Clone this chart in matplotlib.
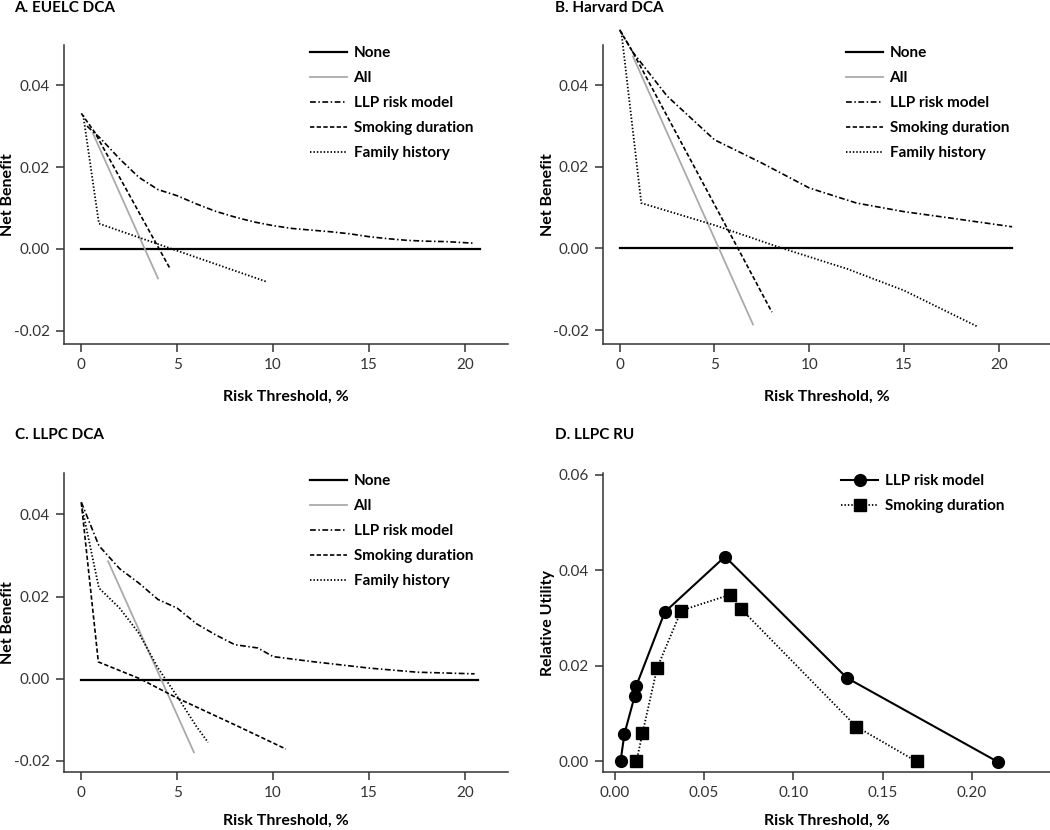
import matplotlib
matplotlib.use("Agg")
import matplotlib.pyplot as plt

plt.rcParams['font.family'] = ['Lato', 'DejaVu Sans']

# ---- data (risk threshold in %, net benefit) ----
# A. EUELC DCA
a_none_x = [0, 20.8]
a_none_y = [0, 0]
a_all_x = [0.6, 4.0]
a_all_y = [0.0283, -0.0072]
a_llp_x = [0.3, 1, 2, 3, 4, 5, 6, 7, 8, 9, 10, 11, 12, 13, 14, 15, 16, 17, 18, 19, 20.5]
a_llp_y = [0.030, 0.027, 0.022, 0.0175, 0.0145, 0.0130, 0.011, 0.0092, 0.0078, 0.0066,
           0.0057, 0.0050, 0.0046, 0.0042, 0.0037, 0.0030, 0.0025, 0.0021, 0.0019, 0.0018, 0.0014]
a_smk_x = [0, 0.7, 4.65]
a_smk_y = [0.0331, 0.0285, -0.005]
a_fam_x = [0.1, 0.92, 9.66]
a_fam_y = [0.0327, 0.0062, -0.008]

# B. Harvard DCA
b_none_x = [0, 20.7]
b_none_y = [0, 0]
b_all_x = [0.7, 7.03]
b_all_y = [0.047, -0.0186]
b_llp_x = [0, 0.7, 2.5, 5, 7.5, 10, 12.5, 15, 17.5, 20.7]
b_llp_y = [0.0535, 0.048, 0.0373, 0.0266, 0.0209, 0.0148, 0.0111, 0.009, 0.0074, 0.0053]
b_smk_x = [0, 0.7, 6.24, 8.03]
b_smk_y = [0.0535, 0.048, 0, -0.0156]
b_fam_x = [0.09, 1.14, 5, 8.6, 12, 15, 18.9]
b_fam_y = [0.0529, 0.0111, 0.0057, 0, -0.005, -0.0103, -0.0192]

# C. LLPC DCA
c_none_x = [0, 20.7]
c_none_y = [-0.0003, -0.0003]
c_all_x = [1.4, 5.87]
c_all_y = [0.0286, -0.0179]
c_llp_x = [0, 0.92, 2, 3, 4, 5, 6, 7, 8, 9.2, 10, 12, 15, 17.5, 20.5]
c_llp_y = [0.043, 0.0324, 0.0268, 0.0233, 0.0193, 0.0172, 0.0134, 0.0107, 0.0083,
           0.0075, 0.0054, 0.0042, 0.0026, 0.0016, 0.0012]
c_smk_x = [0, 0.89, 3.06, 5, 8, 10.66]
c_smk_y = [0.0429, 0.0041, 0, -0.0047, -0.0112, -0.0171]
c_fam_x = [0.05, 0.92, 2, 3, 4, 5, 6, 6.61]
c_fam_y = [0.0415, 0.0221, 0.0172, 0.0111, 0.0026, -0.0043, -0.0116, -0.0155]

# D. LLPC RU
d_llp_x = [0.0033, 0.0055, 0.0113, 0.0122, 0.0281, 0.0618, 0.130, 0.2146]
d_llp_y = [0.0, 0.0058, 0.0138, 0.0159, 0.0313, 0.0429, 0.0175, -0.0001]
d_smk_x = [0.0122, 0.0156, 0.0238, 0.0373, 0.0644, 0.0706, 0.1353, 0.169]
d_smk_y = [0.0, 0.0059, 0.0196, 0.0316, 0.0349, 0.032, 0.0073, 0.0]

dca_labels = ["None", "All", "LLP risk model", "Smoking duration", "Family history"]
W, H = 1050, 830

ax_col = "#333333"
tick_col = "#333333"


def style_axes(ax):
    for s in ["top", "right"]:
        ax.spines[s].set_visible(False)
    for s in ["left", "bottom"]:
        ax.spines[s].set_color(ax_col)
        ax.spines[s].set_linewidth(1.1)
    ax.tick_params(direction="out", length=6, width=1.1, color=ax_col,
                   labelsize=11, labelcolor=tick_col, pad=4)


def px_axes(fig, l, t, r, b):
    return fig.add_axes([l / W, 1 - b / H, (r - l) / W, (b - t) / H])


def set_labels(ax, xlab, ylab, ylab_x, xlab_y):
    # label positions given in figure pixels
    ax.set_xlabel(xlab, fontsize=11.5, fontweight="bold")
    ax.set_ylabel(ylab, fontsize=11.5, fontweight="bold")
    tr = ax.transAxes.inverted()
    xa, _ = tr.transform((ylab_x, 0))
    _, ya = tr.transform((0, H - xlab_y))
    ax.yaxis.set_label_coords(xa, 0.5)
    ax.xaxis.set_label_coords(0.5, ya)
    ax.xaxis.label.set_va("center")
    ax.yaxis.label.set_va("center")


def dca_panel(ax, none, allx, llp, smk, fam, clip=True):
    lines = []
    lines += ax.plot(none[0], none[1], color="black", lw=1.6, clip_on=clip)
    lines += ax.plot(allx[0], allx[1], color="#aaaaaa", lw=1.3, clip_on=clip)
    lines += ax.plot(llp[0], llp[1], color="black", lw=1.2,
                     dashes=(3.5, 1.5, 0.9, 1.5), clip_on=clip)
    lines += ax.plot(smk[0], smk[1], color="black", lw=1.2,
                     dashes=(2.6, 1.4), clip_on=clip)
    lines += ax.plot(fam[0], fam[1], color="black", lw=1.3,
                     dashes=(0.8, 1.1), clip_on=clip)
    ax.set_xticks([0, 5, 10, 15, 20])
    ax.set_yticks([-0.02, 0.00, 0.02, 0.04])
    ax.yaxis.set_major_formatter(matplotlib.ticker.FormatStrFormatter("%.2f"))
    return lines


def add_legend(fig, ax, handles, labels, x, y):
    ax.legend(handles, labels, loc="upper left", bbox_to_anchor=(x / W, 1 - y / H),
              bbox_transform=fig.transFigure, frameon=False, borderpad=0,
              borderaxespad=0, handlelength=2.45, handletextpad=0.4,
              labelspacing=0.72, prop={"size": 11, "weight": "bold"})


fig = plt.figure(figsize=(10.5, 8.3), dpi=100)

# A
axA = px_axes(fig, 64, 45, 508, 344)
style_axes(axA)
hA = dca_panel(axA, (a_none_x, a_none_y), (a_all_x, a_all_y), (a_llp_x, a_llp_y),
               (a_smk_x, a_smk_y), (a_fam_x, a_fam_y))
axA.set_xlim(-0.9, 22.24)
axA.set_ylim(-0.0232, 0.0498)
add_legend(fig, axA, hA, dca_labels, 310, 46)

# B
axB = px_axes(fig, 603, 45, 1050, 344)
style_axes(axB)
hB = dca_panel(axB, (b_none_x, b_none_y), (b_all_x, b_all_y), (b_llp_x, b_llp_y),
               (b_smk_x, b_smk_y), (b_fam_x, b_fam_y), clip=False)
axB.set_xlim(-0.88, 22.7)
axB.set_ylim(-0.0234, 0.0498)
add_legend(fig, axB, hB, dca_labels, 846, 46)

# C
axC = px_axes(fig, 64, 473, 508, 772)
style_axes(axC)
hC = dca_panel(axC, (c_none_x, c_none_y), (c_all_x, c_all_y), (c_llp_x, c_llp_y),
               (c_smk_x, c_smk_y), (c_fam_x, c_fam_y))
axC.set_xlim(-0.9, 22.24)
axC.set_ylim(-0.0227, 0.0501)
add_legend(fig, axC, hC, dca_labels, 310, 474)

# D
axD = px_axes(fig, 603, 473, 1050, 772)
style_axes(axD)
l1, = axD.plot(d_llp_x, d_llp_y, color="black", lw=1.5, marker="o", markersize=8.5,
               clip_on=False)
l2, = axD.plot(d_smk_x, d_smk_y, color="black", lw=1.3, dashes=(0.8, 1.1),
               marker="s", markersize=8, clip_on=False)
axD.set_xlim(-0.0065, 0.2437)
axD.set_ylim(-0.0022, 0.0604)
axD.set_xticks([0.00, 0.05, 0.10, 0.15, 0.20])
axD.set_yticks([0.00, 0.02, 0.04, 0.06])
axD.xaxis.set_major_formatter(matplotlib.ticker.FormatStrFormatter("%.2f"))
axD.yaxis.set_major_formatter(matplotlib.ticker.FormatStrFormatter("%.2f"))
add_legend(fig, axD, [l1, l2], ["LLP risk model", "Smoking duration"], 841, 474)

set_labels(axA, "Risk Threshold, %", "Net Benefit", 8, 397)
set_labels(axB, "Risk Threshold, %", "Net Benefit", 548, 397)
set_labels(axC, "Risk Threshold, %", "Net Benefit", 8, 821)
set_labels(axD, "Risk Threshold, %", "Relative Utility", 548, 821)

# panel titles
for txt, x, y in [("A. EUELC DCA", 14, 8), ("B. Harvard DCA", 555, 8),
                  ("C. LLPC DCA", 15, 435), ("D. LLPC RU", 555, 435)]:
    fig.text(x / W, 1 - y / H, txt, fontsize=11, fontweight="bold", va="center", ha="left")

fig.savefig("out.png", dpi=100)
